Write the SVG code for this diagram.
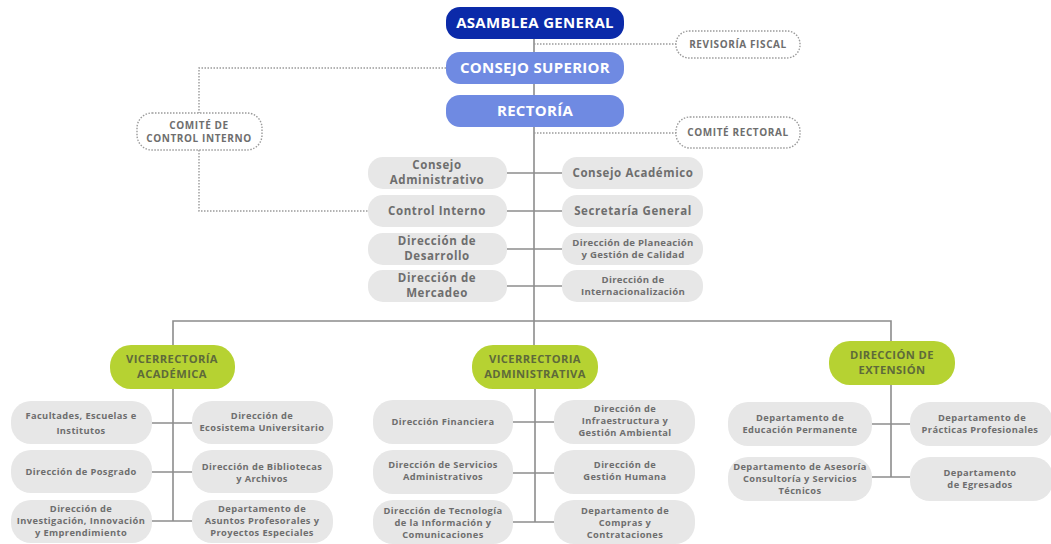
<svg xmlns="http://www.w3.org/2000/svg" width="1051" height="544" viewBox="0 0 1051 544">
<style>
.bg{fill:#ffffff}
.ln{stroke:#8c8c8c;stroke-width:1.6;fill:none}
.dt{stroke:#9a9a9a;stroke-width:1.4;fill:none;stroke-dasharray:1.5 1.5}
.dk{fill:#0b2aa9}
.md{fill:#6f8ae2}
.gr{fill:#e7e7e7}
.gn{fill:#b6d232}
.db{fill:#ffffff;stroke:#9a9a9a;stroke-width:1.4;stroke-dasharray:1.5 1.5}
text{font-family:"Open Sans","Liberation Sans",sans-serif;font-weight:700;text-anchor:middle}
.tw{fill:#ffffff;font-size:15px;letter-spacing:0.3px}
.tc{fill:#6e6e6e;font-size:10px;letter-spacing:0.6px}
.t12{fill:#6e6e6e;font-size:11.5px;letter-spacing:0.6px}
.t9{fill:#6e6e6e;font-size:9.6px;letter-spacing:0.3px}
.t8{fill:#6e6e6e;font-size:9.3px;letter-spacing:0.4px}
.tg{fill:#5e6a3a;font-size:11.2px;letter-spacing:0.4px}
</style>
<rect class="bg" x="0" y="0" width="1051" height="544"/>
<g id="connectors">
<line class="ln" x1="534" y1="38" x2="534" y2="321"/>
<line class="dt" x1="534" y1="44" x2="676" y2="44"/>
<line class="dt" x1="534" y1="133" x2="676" y2="133"/>
<polyline class="dt" points="446,68 199,68 199,113"/>
<polyline class="dt" points="199,150 199,211 368,211"/>
<line class="ln" x1="507" y1="173" x2="562" y2="173"/>
<line class="ln" x1="507" y1="211" x2="562" y2="211"/>
<line class="ln" x1="507" y1="249" x2="562" y2="249"/>
<line class="ln" x1="507" y1="286" x2="562" y2="286"/>
<polyline class="ln" points="173,345 173,321 891,321 891,342"/>
<line class="ln" x1="534" y1="321" x2="534" y2="345"/>
<line class="ln" x1="173" y1="388" x2="173" y2="521"/>
<line class="ln" x1="152" y1="423" x2="192" y2="423"/>
<line class="ln" x1="152" y1="472" x2="192" y2="472"/>
<line class="ln" x1="152" y1="521" x2="192" y2="521"/>
<line class="ln" x1="535" y1="388" x2="535" y2="522"/>
<line class="ln" x1="513" y1="422" x2="554" y2="422"/>
<line class="ln" x1="513" y1="473" x2="554" y2="473"/>
<line class="ln" x1="513" y1="522" x2="554" y2="522"/>
<line class="ln" x1="891" y1="385" x2="891" y2="477"/>
<line class="ln" x1="872" y1="424" x2="910" y2="424"/>
<line class="ln" x1="872" y1="477" x2="910" y2="477"/>
</g>
<g id="asamblea"><rect class="dk" x="446" y="7" width="178" height="32" rx="14"/><text class="tw" x="535" y="28">ASAMBLEA GENERAL</text></g>
<g id="consejo-superior"><rect class="md" x="446" y="52" width="178" height="32" rx="14"/><text class="tw" x="535" y="73">CONSEJO SUPERIOR</text></g>
<g id="rectoria"><rect class="md" x="446" y="95" width="178" height="32" rx="14"/><text class="tw" x="535" y="116">RECTORÍA</text></g>
<g id="revisoria"><rect class="db" x="676" y="31" width="124" height="27" rx="13"/><text class="tc" x="738" y="48">REVISORÍA FISCAL</text></g>
<g id="comite-rectoral"><rect class="db" x="676" y="117" width="124" height="31" rx="14"/><text class="tc" x="738" y="136">COMITÉ RECTORAL</text></g>
<g id="comite-control"><rect class="db" x="137" y="113" width="125" height="37" rx="15"/><text class="tc" x="199" y="129">COMITÉ DE</text><text class="tc" x="199" y="142">CONTROL INTERNO</text></g>
<g id="consejo-admin"><rect class="gr" x="368" y="157" width="139" height="32" rx="15"/><text class="t12" x="437" y="169">Consejo</text><text class="t12" x="437" y="184">Administrativo</text></g>
<g id="consejo-acad"><rect class="gr" x="562" y="157" width="141" height="32" rx="15"/><text class="t12" x="633" y="177">Consejo Académico</text></g>
<g id="control-interno"><rect class="gr" x="368" y="195" width="139" height="32" rx="15"/><text class="t12" x="437" y="215">Control Interno</text></g>
<g id="secretaria"><rect class="gr" x="562" y="195" width="141" height="32" rx="15"/><text class="t12" x="633" y="215">Secretaría General</text></g>
<g id="dir-desarrollo"><rect class="gr" x="368" y="233" width="139" height="32" rx="15"/><text class="t12" x="437" y="245">Dirección de</text><text class="t12" x="437" y="260">Desarrollo</text></g>
<g id="dir-planeacion"><rect class="gr" x="562" y="233" width="141" height="32" rx="15"/><text class="t9" x="633" y="246">Dirección de Planeación</text><text class="t9" x="633" y="258">y Gestión de Calidad</text></g>
<g id="dir-mercadeo"><rect class="gr" x="368" y="270" width="139" height="32" rx="15"/><text class="t12" x="437" y="282">Dirección de</text><text class="t12" x="437" y="297">Mercadeo</text></g>
<g id="dir-internac"><rect class="gr" x="562" y="270" width="141" height="32" rx="15"/><text class="t9" x="633" y="283">Dirección de</text><text class="t9" x="633" y="295">Internacionalización</text></g>
<g id="vic-academica"><rect class="gn" x="110" y="345" width="125" height="44" rx="21"/><text class="tg" x="172" y="363">VICERRECTORÍA</text><text class="tg" x="172" y="378">ACADÉMICA</text></g>
<g id="vic-admin"><rect class="gn" x="472" y="345" width="126" height="44" rx="21"/><text class="tg" x="535" y="363">VICERRECTORIA</text><text class="tg" x="535" y="378">ADMINISTRATIVA</text></g>
<g id="dir-extension"><rect class="gn" x="829" y="341" width="126" height="44" rx="21"/><text class="tg" x="892" y="359">DIRECCIÓN DE</text><text class="tg" x="892" y="374">EXTENSIÓN</text></g>
<g id="facultades"><rect class="gr" x="11" y="401" width="141" height="43" rx="20"/><text class="t8" x="81" y="419">Facultades, Escuelas e</text><text class="t8" x="81" y="434">Institutos</text></g>
<g id="ecosistema"><rect class="gr" x="192" y="401" width="141" height="43" rx="20"/><text class="t8" x="262" y="419">Dirección de</text><text class="t8" x="262" y="431">Ecosistema Universitario</text></g>
<g id="posgrado"><rect class="gr" x="11" y="450" width="141" height="43" rx="20"/><text class="t8" x="81" y="475">Dirección de Posgrado</text></g>
<g id="bibliotecas"><rect class="gr" x="192" y="450" width="141" height="43" rx="20"/><text class="t8" x="262" y="470">Dirección de Bibliotecas</text><text class="t8" x="262" y="482">y Archivos</text></g>
<g id="investigacion"><rect class="gr" x="11" y="500" width="141" height="43" rx="20"/><text class="t8" x="81" y="512">Dirección de</text><text class="t8" x="81" y="524">Investigación, Innovación</text><text class="t8" x="81" y="536">y Emprendimiento</text></g>
<g id="asuntos"><rect class="gr" x="192" y="500" width="141" height="43" rx="20"/><text class="t8" x="262" y="512">Departamento de</text><text class="t8" x="262" y="524">Asuntos Profesorales y</text><text class="t8" x="262" y="536">Proyectos Especiales</text></g>
<g id="financiera"><rect class="gr" x="373" y="400" width="140" height="44" rx="20"/><text class="t8" x="443" y="425">Dirección Financiera</text></g>
<g id="infraestructura"><rect class="gr" x="554" y="400" width="141" height="44" rx="20"/><text class="t8" x="625" y="412">Dirección de</text><text class="t8" x="625" y="424">Infraestructura y</text><text class="t8" x="625" y="436">Gestión Ambiental</text></g>
<g id="servicios"><rect class="gr" x="373" y="450" width="140" height="44" rx="20"/><text class="t8" x="443" y="468">Dirección de Servicios</text><text class="t8" x="443" y="480">Administrativos</text></g>
<g id="gestion-humana"><rect class="gr" x="554" y="450" width="141" height="44" rx="20"/><text class="t8" x="625" y="468">Dirección de</text><text class="t8" x="625" y="480">Gestión Humana</text></g>
<g id="tecnologia"><rect class="gr" x="373" y="500" width="140" height="44" rx="20"/><text class="t8" x="443" y="514">Dirección de Tecnología</text><text class="t8" x="443" y="526">de la Información y</text><text class="t8" x="443" y="538">Comunicaciones</text></g>
<g id="compras"><rect class="gr" x="554" y="500" width="141" height="44" rx="20"/><text class="t8" x="625" y="514">Departamento de</text><text class="t8" x="625" y="526">Compras y</text><text class="t8" x="625" y="538">Contrataciones</text></g>
<g id="educacion"><rect class="gr" x="728" y="402" width="144" height="44" rx="20"/><text class="t8" x="800" y="421">Departamento de</text><text class="t8" x="800" y="433">Educación Permanente</text></g>
<g id="practicas"><rect class="gr" x="910" y="402" width="143" height="44" rx="20"/><text class="t8" x="982" y="421">Departamento de</text><text class="t8" x="980" y="433">Prácticas Profesionales</text></g>
<g id="asesoria"><rect class="gr" x="728" y="457" width="144" height="44" rx="20"/><text class="t8" x="800" y="470">Departamento de Asesoría</text><text class="t8" x="800" y="482">Consultoría y Servicios</text><text class="t8" x="800" y="494">Técnicos</text></g>
<g id="egresados"><rect class="gr" x="910" y="457" width="143" height="44" rx="20"/><text class="t8" x="980" y="476">Departamento</text><text class="t8" x="980" y="488">de Egresados</text></g>
</svg>
